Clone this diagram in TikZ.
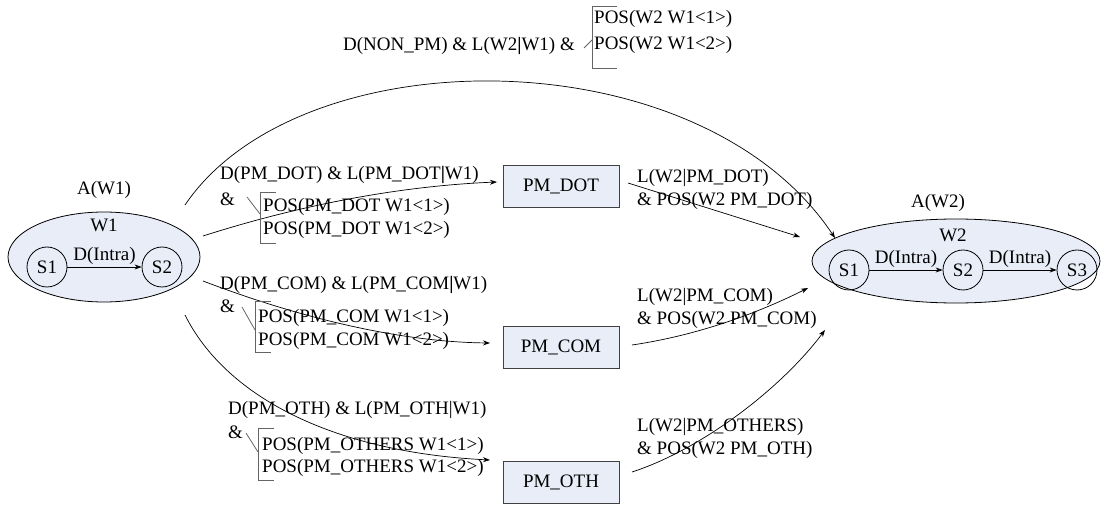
\documentclass[tikz,border=0pt]{standalone}
\usepackage{fontspec}
\setmainfont{Liberation Serif}
\usetikzlibrary{arrows.meta,shapes.geometric}
\definecolor{fillblue}{RGB}{232,237,248}
\definecolor{brkgray}{RGB}{100,100,100}
\begin{document}
\begin{tikzpicture}[x=1pt,y=-1pt, font=\fontsize{19}{23}\selectfont,
  ell/.style={ellipse, draw, fill=fillblue, line width=0.8pt, inner sep=0},
  st/.style={circle, draw, minimum size=40pt, inner sep=0, line width=0.8pt},
  pmbox/.style={rectangle, draw=black!75, fill=fillblue, minimum width=116pt, minimum height=42pt, line width=0.8pt},
  lbl/.style={inner sep=0, anchor=west, align=left},
  arr/.style={-{Stealth[length=7pt,width=5pt]}, line width=0.7pt},
  brk/.style={draw=brkgray, line width=0.8pt}]
\useasboundingbox (0,0) rectangle (1108,510);

% left word W1
\node[ell, minimum width=192pt, minimum height=90pt] (W1) at (104,257) {};
\node (aw1) at (104,190) {A(W1)};
\node (w1lab) at (104,225) {W1};
\node[st] (l1) at (47,267) {S1};
\node[st] (l2) at (162,267) {S2};
\draw[arr] (l1) -- (l2) node[midway, above=2pt, inner sep=0] {D(Intra)};

% right word W2
\node[ell, minimum width=288pt, minimum height=84pt] (W2) at (956,261) {};
\node (aw2) at (938,203) {A(W2)};
\node (w2lab) at (953,235) {W2};
\node[st] (r1) at (849,270) {S1};
\node[st] (r2) at (963,270) {S2};
\node[st] (r3) at (1077,270) {S3};
\draw[arr] (r1) -- (r2) node[midway, above=2pt, inner sep=0] {D(Intra)};
\draw[arr] (r2) -- (r3) node[midway, above=2pt, inner sep=0] {D(Intra)};

% PM boxes
\node[pmbox] (dot) at (561,186) {PM\_DOT};
\node[pmbox] (com) at (561,347) {PM\_COM};
\node[pmbox] (oth) at (561,482) {PM\_OTH};

% connector end points
\coordinate (t0) at (185,205);
\coordinate (t1) at (835,238);
\coordinate (d0) at (203,236);
\coordinate (d1) at (497,182);
\coordinate (e0) at (628,183);
\coordinate (e1) at (800,237);
\coordinate (c0) at (203,281);
\coordinate (c1) at (490,343);
\coordinate (f0) at (632,345);
\coordinate (f1) at (808,288);
\coordinate (o0) at (185,315);
\coordinate (o1) at (490,460);
\coordinate (g0) at (632,472);
\coordinate (g1) at (825,330);

\draw[arr] (t0) .. controls (300,35) and (700,35) .. (t1);
\draw[arr] (d0) .. controls (300,205) and (400,186) .. (d1);
\draw[arr] (e0) -- (e1);
\draw[arr] (c0) .. controls (300,318) and (400,342) .. (c1);
\draw[arr] (f0) .. controls (700,335) and (760,312) .. (f1);
\draw[arr] (o0) .. controls (225,395) and (330,452) .. (o1);
\draw[arr] (g0) .. controls (700,450) and (780,390) .. (g1);

% top label
\node[lbl] (toplab) at (343,46) {D(NON\_PM) \& L(W2\textbf{|}W1) \&};
\draw[brk] (617,6) -- (592,6) -- (592,68) -- (617,68);
\draw[brk] (584,48) -- (592,40);
\node[lbl] (tp1) at (594,19) {POS(W2 W1<1>)};
\node[lbl] (tp2) at (594,45) {POS(W2 W1<2>)};

% PM_DOT label
\node[lbl] (dl) at (220,175) {D(PM\_DOT) \& L(PM\_DOT\textbf{|}W1)};
\node[lbl] (da) at (220,199) {\&};
\draw[brk] (276,192) -- (260,192) -- (260,243) -- (276,243);
\draw[brk] (247,197) -- (260,214);
\node[lbl] (dp1) at (263,207) {POS(PM\_DOT W1<1>)};
\node[lbl] (dp2) at (263,230) {POS(PM\_DOT W1<2>)};

% PM_COM label
\node[lbl] (cl) at (220,285) {D(PM\_COM) \& L(PM\_COM\textbf{|}W1)};
\node[lbl] (ca) at (220,306) {\&};
\draw[brk] (271,301) -- (255,301) -- (255,352) -- (271,352);
\draw[brk] (242,307) -- (255,330);
\node[lbl] (cp1) at (258,318) {POS(PM\_COM W1<1>)};
\node[lbl] (cp2) at (258,341) {POS(PM\_COM W1<2>)};

% PM_OTH label
\node[lbl] (ol) at (228,410) {D(PM\_OTH) \& L(PM\_OTH|W1)};
\node[lbl] (oa) at (228,432) {\&};
\draw[brk] (274,428) -- (258,428) -- (258,480) -- (274,480);
\draw[brk] (246,433) -- (258,452);
\node[lbl] (op1) at (262,446) {POS(PM\_OTHERS W1<1>)};
\node[lbl] (op2) at (262,468) {POS(PM\_OTHERS W1<2>)};

% right labels
\node[lbl] (rd1) at (637,178) {L(W2|PM\_DOT)};
\node[lbl] (rd2) at (637,201) {\& POS(W2 PM\_DOT)};
\node[lbl] (rc1) at (637,297) {L(W2|PM\_COM)};
\node[lbl] (rc2) at (637,320) {\& POS(W2 PM\_COM)};
\node[lbl] (ro1) at (637,427) {L(W2|PM\_OTHERS)};
\node[lbl] (ro2) at (637,450) {\& POS(W2 PM\_OTH)};
\end{tikzpicture}
\end{document}
